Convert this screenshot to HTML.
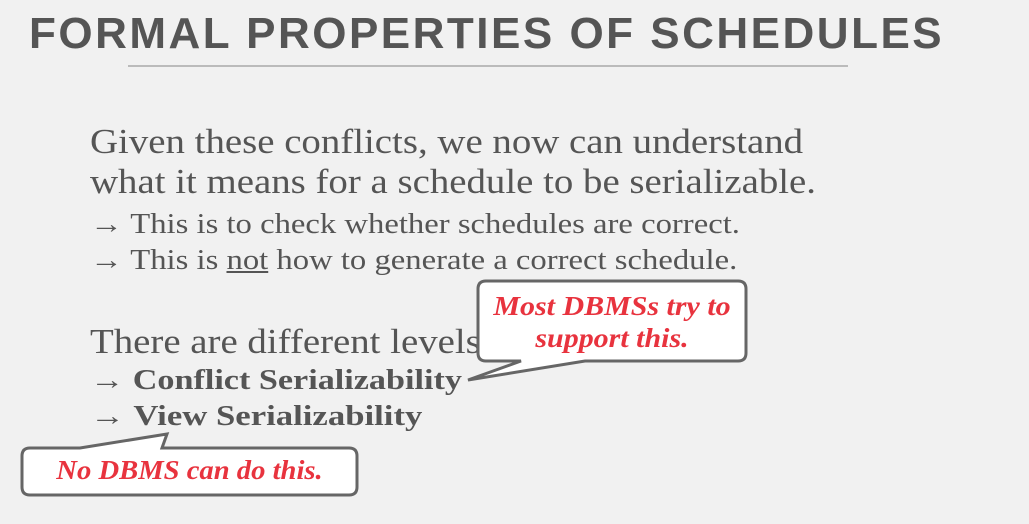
<!DOCTYPE html>
<html><head><meta charset="utf-8"><style>
body{margin:0;width:1029px;height:524px;background:#f1f1f1;overflow:hidden;position:relative;font-family:"Liberation Serif",serif;color:#555}
.t{position:absolute;white-space:nowrap;line-height:1;transform-origin:0 0}
</style></head><body>
<div class="t" style="left:29px;top:12px;font-family:'Liberation Sans',sans-serif;font-weight:bold;font-size:44px;letter-spacing:2.5px;color:#555">FORMAL PROPERTIES OF SCHEDULES</div>
<div style="position:absolute;left:128px;top:65px;width:720px;height:2px;background:#bbb"></div>
<div class="t" style="left:90px;top:124px;font-size:35px;transform:scaleX(1.11)">Given these conflicts, we now can understand</div>
<div class="t" style="left:90px;top:164px;font-size:35px;transform:scaleX(1.11)">what it means for a schedule to be serializable.</div>
<div class="t" style="left:90px;top:211px;font-size:28px;transform:scaleX(1.167)">→ This is to check whether schedules are correct.</div>
<div class="t" style="left:90px;top:247px;font-size:28px;transform:scaleX(1.167)">→ This is <u>not</u> how to generate a correct schedule.</div>
<div class="t" style="left:90px;top:324px;font-size:35px;transform:scaleX(1.11)">There are different levels</div>
<div class="t" style="left:90px;top:367px;font-size:28px;transform:scaleX(1.22)">→ <b>Conflict Serializability</b></div>
<div class="t" style="left:90px;top:403px;font-size:28px;transform:scaleX(1.24)">→ <b>View Serializability</b></div>
<svg width="1029" height="524" style="position:absolute;left:0;top:0">
<path d="M486,281 H738 Q746,281 746,289 V353 Q746,361 738,361 H585 L468,380 L521,361 H486 Q478,361 478,353 V289 Q478,281 486,281 Z" fill="#fff" stroke="#666" stroke-width="3"/>
<path d="M30,448 H80 L167,434 L162,448 H349 Q357,448 357,456 V487 Q357,495 349,495 H30 Q22,495 22,487 V456 Q22,448 30,448 Z" fill="#fff" stroke="#666" stroke-width="3"/>
</svg>
<div class="t" style="left:478px;top:290px;width:268px;text-align:center;font-size:27px;font-style:italic;font-weight:bold;color:#e8333e;line-height:32px;transform-origin:50% 0;transform:scaleX(1.11)">Most DBMSs try to<br>support this.</div>
<div class="t" style="left:22px;top:457px;width:335px;text-align:center;font-size:27px;font-style:italic;font-weight:bold;color:#e8333e;transform-origin:50% 0;transform:scaleX(1.06)">No DBMS can do this.</div>
</body></html>
